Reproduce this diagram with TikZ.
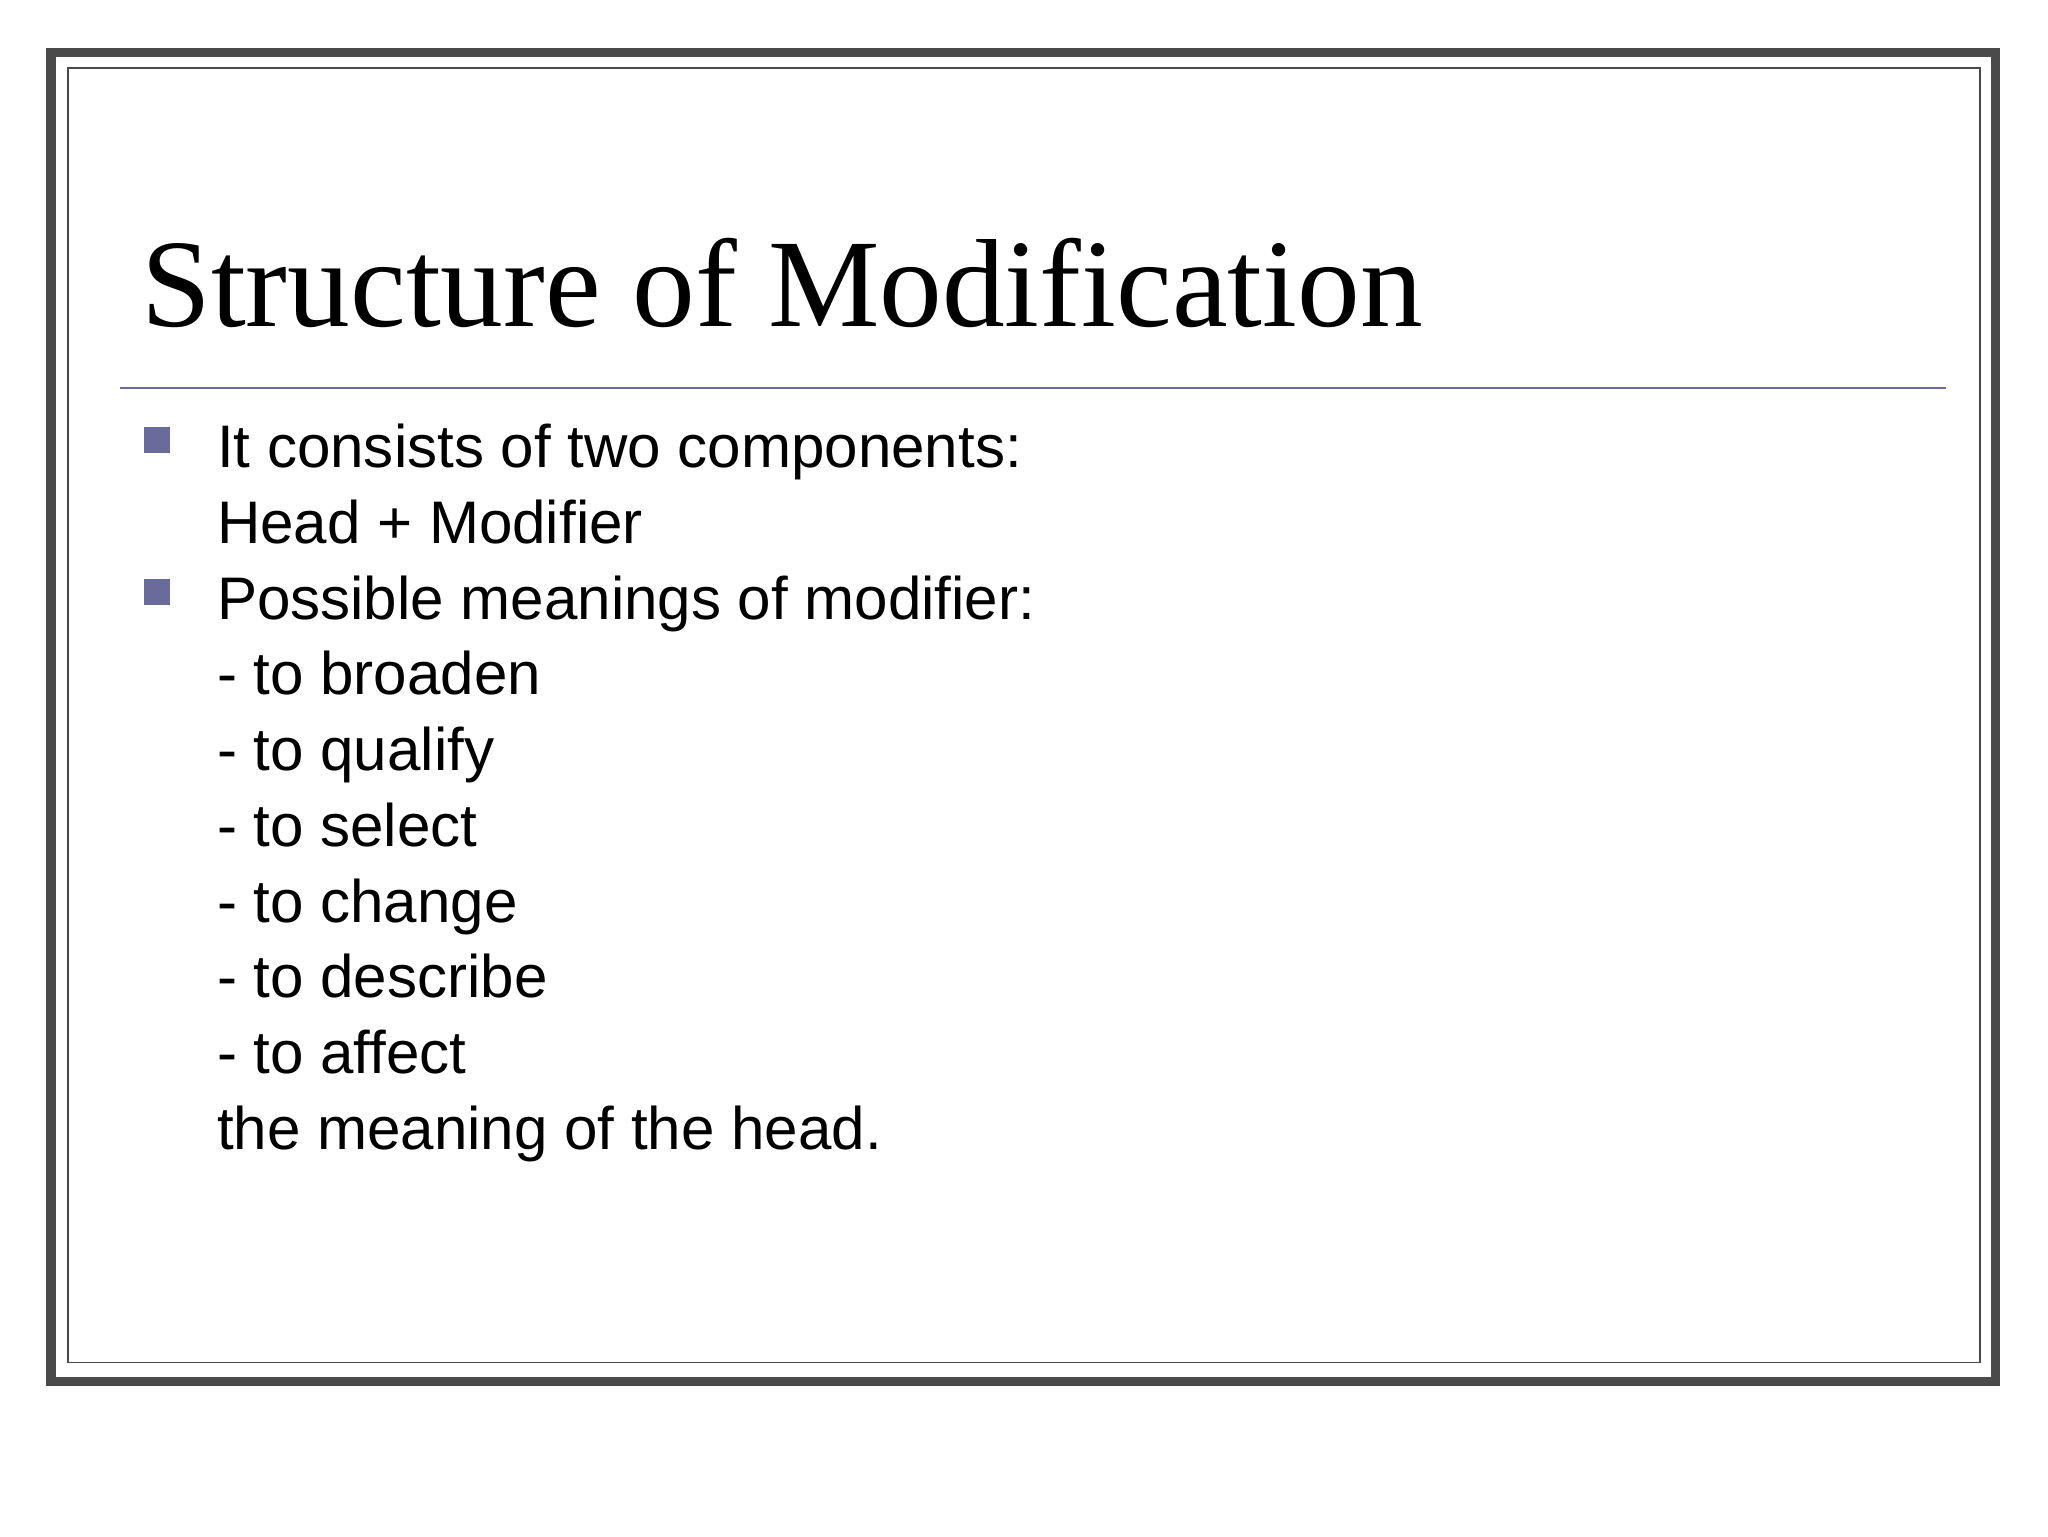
\documentclass[tikz,border=0pt]{standalone}
\usepackage{fontspec}
\setmainfont{Liberation Serif}
\newfontfamily\bodyfont{Liberation Sans}
\definecolor{frame}{HTML}{4A4A4A}
\definecolor{accent}{HTML}{6B6B9B}
\begin{document}
\begin{tikzpicture}[x=1pt,y=-1pt]
\tikzset{body/.style={anchor=base west,inner sep=0pt,font=\bodyfont\fontsize{46}{46}\selectfont},
bul/.style={fill=accent,draw=none}}
\useasboundingbox (0,0) rectangle (1568,1176);
\fill[white] (0,0) rectangle (1568,1176);
\draw[frame,line width=7] (39,40) rectangle (1528,1058);
\draw[frame,line width=1.2] (52,52) rectangle (1516,1043);
\node[anchor=base west,inner sep=0pt,font=\fontsize{96}{96}\selectfont] (title) at (108,250) {Structure of Modification};
\draw[accent,line width=1.5] (92,297) -- (1490,297);
\fill[bul] (110,327) rectangle (130,347);
\fill[bul] (110,443) rectangle (130,463);
\node[body] (l1) at (166,358) {It consists of two components:};
\node[body] (l2) at (166,416) {Head + Modifier};
\node[body] (l3) at (166,474) {Possible meanings of modifier:};
\node[body] (l4) at (166,532) {- to broaden};
\node[body] (l5) at (166,590) {- to qualify};
\node[body] (l6) at (166,648) {- to select};
\node[body] (l7) at (166,706) {- to change};
\node[body] (l8) at (166,764) {- to describe};
\node[body] (l9) at (166,822) {- to affect};
\node[body] (l10) at (166,880) {the meaning of the head.};
\end{tikzpicture}
\end{document}
